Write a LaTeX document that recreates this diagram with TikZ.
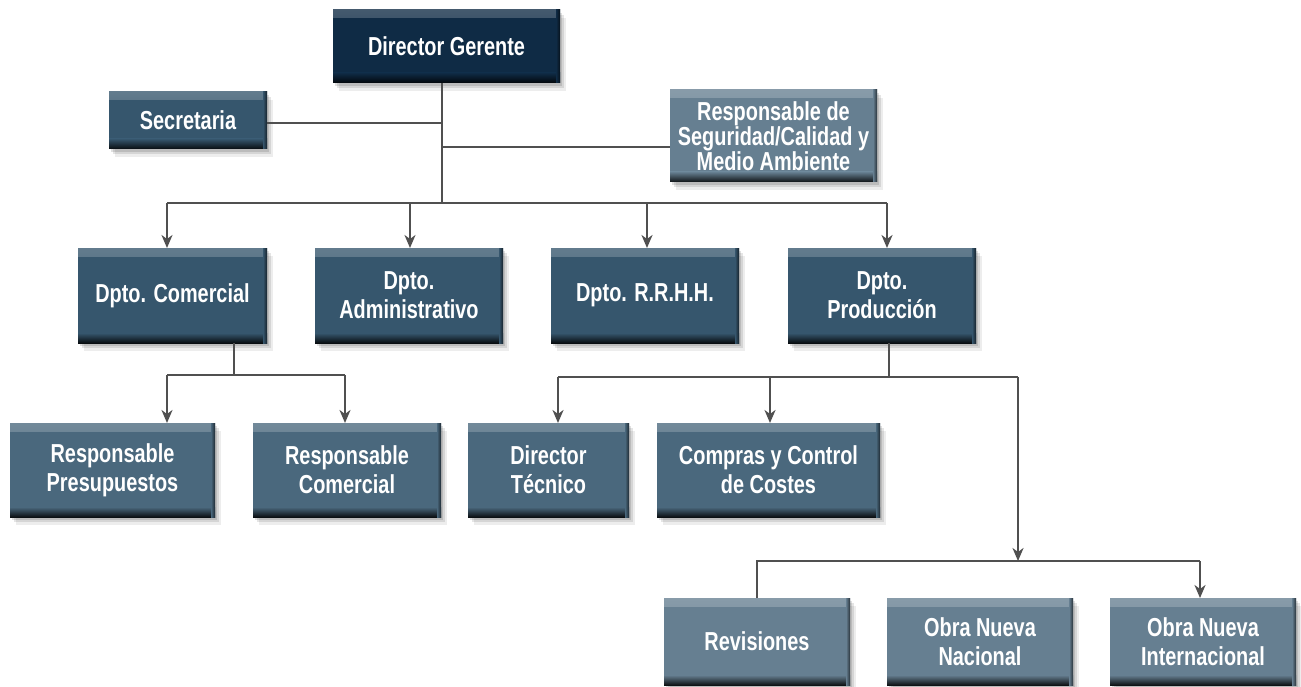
\documentclass[tikz,border=0pt]{standalone}
\usepackage{fontspec}
\setmainfont{Liberation Sans}[FakeStretch=0.765]
\usetikzlibrary{arrows.meta,shadows}
\definecolor{cdg}{HTML}{0F2B45}
\definecolor{cdep}{HTML}{36566D}
\definecolor{cr2}{HTML}{4A687D}
\definecolor{cr3}{HTML}{667F91}
\definecolor{lin}{HTML}{505050}
\tikzset{
  orgbox/.style={rectangle, fill=#1, text=white,
    font=\fontsize{26}{29}\selectfont\bfseries, align=center,
    inner sep=0pt, outer sep=0pt,
    general shadow={shadow xshift=2pt, shadow yshift=-3pt, opacity=0.12, fill=black},
    general shadow={shadow xshift=4pt, shadow yshift=-5pt, opacity=0.10, fill=black},
    general shadow={shadow xshift=6pt, shadow yshift=-8pt, opacity=0.07, fill=black},
    path picture={
      \fill[top color=#1!78!white, bottom color=#1]
        (path picture bounding box.north west) rectangle ([yshift=-8pt]path picture bounding box.north east);
      \fill[top color=#1, bottom color=black!85!#1]
        ([yshift=10pt]path picture bounding box.south west) rectangle (path picture bounding box.south east);
      \fill[left color=#1, right color=black!60!#1]
        ([xshift=-4pt]path picture bounding box.south east) rectangle (path picture bounding box.north east);
    }},
  sz/.style 2 args={minimum width=#1pt, minimum height=#2pt},
  conn/.style={draw=lin, line width=2.2pt},
  arr/.style={conn, -{Stealth[length=13pt,width=11pt,inset=4pt]}},
}
\begin{document}
\begin{tikzpicture}[x=1pt,y=-1pt]
\useasboundingbox (0,0) rectangle (1301,687);
% nodes
\node[orgbox=cdg, sz={227}{73}] (dg) at (446.5,46.5) {Director Gerente};
\node[orgbox=cdep, sz={158}{57}] (sec) at (188,120.5) {Secretaria};
\node[orgbox=cr3, sz={207}{92}, font=\fontsize{26}{25}\selectfont\bfseries] (rs) at (773.5,136) {Responsable de\\Seguridad/Calidad y\\Medio Ambiente};
\node[orgbox=cdep, sz={189}{95}] (com) at (172.5,295.5) {Dpto. Comercial};
\node[orgbox=cdep, sz={188}{95}] (adm) at (409,295.5) {Dpto.\\Administrativo};
\node[orgbox=cdep, sz={188}{95}] (rrhh) at (645,295.5) {Dpto. R.R.H.H.};
\node[orgbox=cdep, sz={188}{95}] (prod) at (882,295.5) {Dpto.\\Producción};
\node[orgbox=cr2, sz={205}{94}] (pres) at (112.5,470) {Responsable\\Presupuestos};
\node[orgbox=cr2, sz={188}{94}] (rcom) at (347,470) {Responsable\\Comercial};
\node[orgbox=cr2, sz={161}{94}] (dtec) at (548.5,470) {Director\\Técnico};
\node[orgbox=cr2, sz={223}{94}] (comp) at (768.5,470) {Compras y Control\\de Costes};
\node[orgbox=cr3, sz={186}{87}] (rev) at (757,641.5) {Revisiones};
\node[orgbox=cr3, sz={186}{87}] (nac) at (980,641.5) {Obra Nueva\\Nacional};
\node[orgbox=cr3, sz={186}{87}] (int) at (1203,641.5) {Obra Nueva\\Internacional};
% junction coordinates
\coordinate (t0) at (442,83);
\coordinate (tsec) at (442,123);
\coordinate (trs) at (442,147);
\coordinate (tbar) at (442,203);
\coordinate (a1) at (167,203);
\coordinate (a2) at (410,203);
\coordinate (a3) at (647,203);
\coordinate (a4) at (887,203);
\coordinate (c0) at (234,375);
\coordinate (c1) at (167,375);
\coordinate (c2) at (345,375);
\coordinate (p0) at (889,377);
\coordinate (p1) at (558,377);
\coordinate (p2) at (770,377);
\coordinate (p3) at (1018,377);
\coordinate (q0) at (1018,561);
\coordinate (q1) at (757,561);
\coordinate (q2) at (1200,561);
% connectors
\draw[conn] (t0) -- (tbar);
\draw[conn] (sec.east |- tsec) -- (tsec);
\draw[conn] (trs) -- (rs.west |- trs);
\draw[conn] (a1) -- (a4);
\draw[arr] (a1) -- (a1 |- com.north);
\draw[arr] (a2) -- (a2 |- adm.north);
\draw[arr] (a3) -- (a3 |- rrhh.north);
\draw[arr] (a4) -- (a4 |- prod.north);
\draw[conn] (c0 |- com.south) -- (c0);
\draw[conn] (c1) -- (c2);
\draw[arr] (c1) -- (c1 |- pres.north);
\draw[arr] (c2) -- (c2 |- rcom.north);
\draw[conn] (p0 |- prod.south) -- (p0);
\draw[conn] (p1) -- (p3);
\draw[arr] (p1) -- (p1 |- dtec.north);
\draw[arr] (p2) -- (p2 |- comp.north);
\draw[arr] (p3) -- (q0);
\draw[conn] (q1 |- rev.north) -- (q1) -- (q2);
\draw[arr] (q2) -- (q2 |- int.north);
\end{tikzpicture}
\end{document}
